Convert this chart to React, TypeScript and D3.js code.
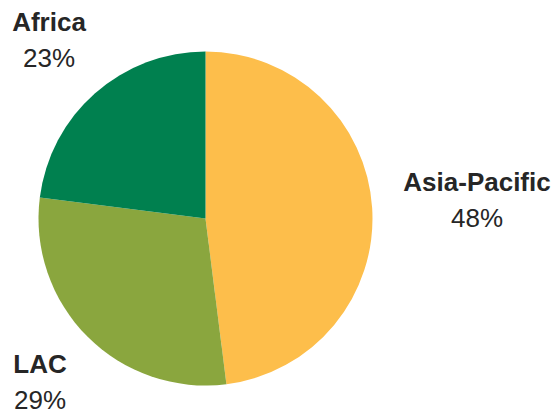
// @ts-nocheck
import * as d3 from "d3";
import { useRef, useEffect } from "react";

const regions = ["Asia-Pacific", "LAC", "Africa"];
const shares = [48, 29, 23];
const colors = ["#FDBE4B", "#8AA63E", "#00804F"];
// label anchor points (centre x, name baseline y)
const labelX = [477, 40, 49];
const labelY = [191, 373, 31];

export default function App() {
  const ref = useRef();

  useEffect(() => {
    const width = 553;
    const height = 409;
    const radius = 167;

    const svg = d3.select(ref.current).attr("width", width).attr("height", height);
    svg.selectAll("*").remove();

    const data = regions.map((name, i) => ({ name, value: shares[i], color: colors[i] }));

    const pie = d3.pie().sort(null).value((d) => d.value);
    const arc = d3.arc().innerRadius(0).outerRadius(radius);

    svg
      .append("g")
      .attr("transform", "translate(205.5,218.5)")
      .selectAll("path")
      .data(pie(data))
      .enter()
      .append("path")
      .attr("d", arc)
      .attr("fill", (d) => d.data.color);

    const labels = svg
      .selectAll("g.label")
      .data(data)
      .enter()
      .append("g")
      .attr("class", "label")
      .attr("transform", (d, i) => "translate(" + labelX[i] + "," + labelY[i] + ")")
      .attr("font-family", "'Liberation Sans', Arial, sans-serif")
      .attr("font-size", 26)
      .attr("fill", "#262626")
      .attr("text-anchor", "middle");

    labels
      .append("text")
      .attr("font-weight", "bold")
      .text((d) => d.name);

    labels
      .append("text")
      .attr("y", 36)
      .text((d) => d.value + "%");
  }, []);

  return (
    <svg
      ref={ref}
      style={{ position: "absolute", left: 0, top: 0, display: "block" }}
    ></svg>
  );
}
